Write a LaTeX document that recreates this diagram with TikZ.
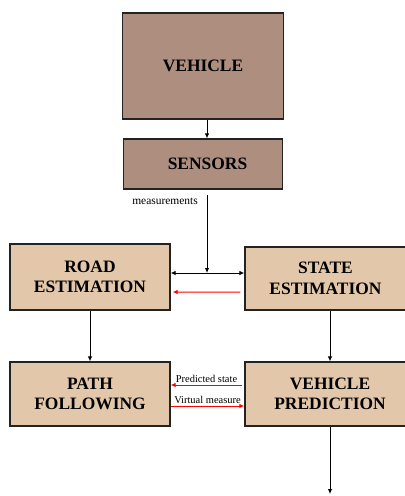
\documentclass[tikz,border=0pt]{standalone}
\usepackage{fontspec}
\setmainfont{Liberation Serif}
\usetikzlibrary{arrows.meta,calc}
\definecolor{darkbox}{RGB}{174,142,127}
\definecolor{lightbox}{RGB}{226,199,170}
\definecolor{edge}{RGB}{35,35,35}
\tikzset{
  blockbox/.style={draw=edge,line width=1.3bp,inner sep=0pt,align=center,
    font=\fontsize{17.5}{20.5}\selectfont\bfseries},
  upper/.style={blockbox,fill=darkbox},
  lower/.style={blockbox,fill=lightbox},
  arr/.style={draw=black,line width=0.9bp,-{Latex[length=5bp,width=4.5bp]}},
  redarr/.style={draw=red,line width=1bp,-{Latex[length=5bp,width=4.5bp]}},
  small/.style={font=\fontsize{10.5}{12}\selectfont,inner sep=1bp}
}
\begin{document}
\begin{tikzpicture}[x=1bp,y=-1bp]
  \useasboundingbox (0,0) rectangle (404,496);
  % top blocks
  \node[upper,minimum width=161bp,minimum height=106bp] (vehicle) at (203,66) {VEHICLE};
  \node[upper,minimum width=159bp,minimum height=50bp] (sensors) at (203,164) {\hspace{9bp}SENSORS};
  % estimation blocks
  \node[lower,minimum width=160bp,minimum height=66bp] (road) at (90,277) {ROAD\\ESTIMATION};
  \node[lower,minimum width=161bp,minimum height=63bp] (state) at (325.5,278.5) {STATE\\ESTIMATION};
  % lower blocks
  \node[lower,minimum width=160bp,minimum height=64bp] (path) at (90,394) {PATH\\FOLLOWING};
  \node[lower,minimum width=170bp,minimum height=64bp] (vp) at (330,394) {VEHICLE\\PREDICTION};
  % helper points
  \coordinate (meas) at (207,195);
  \coordinate (jn) at (207,273);
  \coordinate (out) at (330,494);
  % vehicle to sensors
  \draw[arr] ($(vehicle.south)+(4,0)$) -- ($(sensors.north)+(4,0)$);
  % measurements into the estimators
  \draw[arr] (meas) -- (jn);
  \node[small,font=\fontsize{11.5}{13}\selectfont,anchor=east] (measlbl) at (199,201) {measurements};
  \draw[draw=black,line width=0.9bp,{Latex[length=5bp,width=4.5bp]}-{Latex[length=5bp,width=4.5bp]}]
    (road.east |- jn) -- (state.west |- jn);
  \draw[redarr] ($(state.west)+(-4,13.5)$) -- ($(road.east)+(2,15)$);
  % down to the lower blocks
  \draw[arr] (road.south) -- (path.north);
  \draw[arr] (state.south -| vp.north) -- (vp.north);
  \draw[arr] (vp.south) -- (out);
  % exchange between path following and prediction
  \draw[redarr] ($(vp.west)+(-2,-9)$) -- node[small,above=1bp] (predlbl) {Predicted state} ($(path.east)+(0,-9)$);
  \draw[redarr] ($(path.east)+(0,12)$) -- node[small,above=1bp] (virtlbl) {Virtual measure} ($(vp.west)+(0,12)$);
\end{tikzpicture}
\end{document}
